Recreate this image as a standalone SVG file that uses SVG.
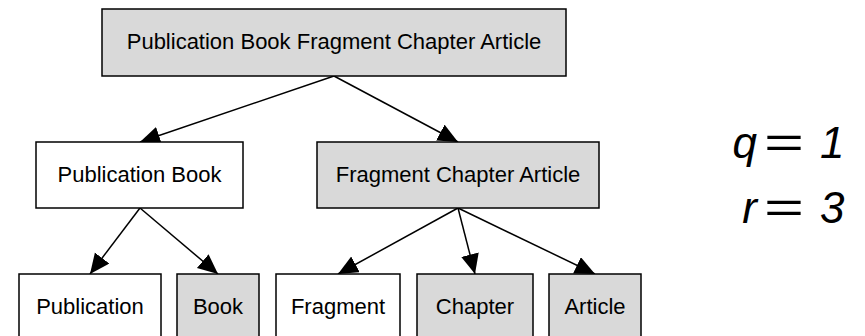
<svg xmlns="http://www.w3.org/2000/svg" width="865" height="336" viewBox="0 0 865 336">
<style>
.box{stroke:#000;stroke-width:1.5}
.w{fill:#fff}
.g{fill:#d9d9d9}
.lbl{font-family:"Liberation Sans",Arial,sans-serif;font-size:22px;fill:#000;text-anchor:middle}
.edge{stroke:#000;stroke-width:1.5;fill:none;marker-end:url(#ah)}
.m{font-family:"Liberation Sans",Arial,sans-serif;font-size:44px;font-style:italic;fill:#000}
</style>
<defs>
<marker id="ah" markerUnits="userSpaceOnUse" markerWidth="22" markerHeight="20" refX="20" refY="9" orient="auto">
<path d="M0,0 L20,9 L0,18 Z" fill="#000"/>
</marker>
</defs>
<rect width="865" height="336" fill="#fff"/>
<g id="connectors">
<line class="edge" x1="334" y1="76" x2="140" y2="142"/>
<line class="edge" x1="334" y1="76" x2="458" y2="142"/>
<line class="edge" x1="140" y1="208" x2="90" y2="274"/>
<line class="edge" x1="140" y1="208" x2="218" y2="274"/>
<line class="edge" x1="458" y1="208" x2="338" y2="274"/>
<line class="edge" x1="458" y1="208" x2="475" y2="274"/>
<line class="edge" x1="458" y1="208" x2="595" y2="274"/>
</g>
<g id="n-root"><rect class="box g" x="102" y="9" width="464" height="67"/><text class="lbl" x="334" y="49">Publication Book Fragment Chapter Article</text></g>
<g id="n-pubbook"><rect class="box w" x="36" y="142" width="207" height="66"/><text class="lbl" x="139.5" y="182">Publication Book</text></g>
<g id="n-fca"><rect class="box g" x="317" y="142" width="282" height="66"/><text class="lbl" x="458" y="182">Fragment Chapter Article</text></g>
<g id="n-publication"><rect class="box w" x="19" y="274" width="142" height="66"/><text class="lbl" x="90" y="314">Publication</text></g>
<g id="n-book"><rect class="box g" x="177" y="274" width="82" height="66"/><text class="lbl" x="218" y="314">Book</text></g>
<g id="n-fragment"><rect class="box w" x="276" y="274" width="124" height="66"/><text class="lbl" x="338" y="314">Fragment</text></g>
<g id="n-chapter"><rect class="box g" x="417" y="274" width="116" height="66"/><text class="lbl" x="475" y="314">Chapter</text></g>
<g id="n-article"><rect class="box g" x="549" y="274" width="92" height="66"/><text class="lbl" x="595" y="314">Article</text></g>
<g id="math">
<text class="m" x="757" y="158" text-anchor="end">q</text>
<text x="784" y="158" text-anchor="middle" font-family="Liberation Sans,Arial,sans-serif" font-size="44" textLength="40" lengthAdjust="spacingAndGlyphs">=</text>
<text class="m" x="820" y="158">1</text>
<text class="m" x="757" y="223" text-anchor="end">r</text>
<text x="784" y="223" text-anchor="middle" font-family="Liberation Sans,Arial,sans-serif" font-size="44" textLength="40" lengthAdjust="spacingAndGlyphs">=</text>
<text class="m" x="820" y="223">3</text>
</g>
</svg>
